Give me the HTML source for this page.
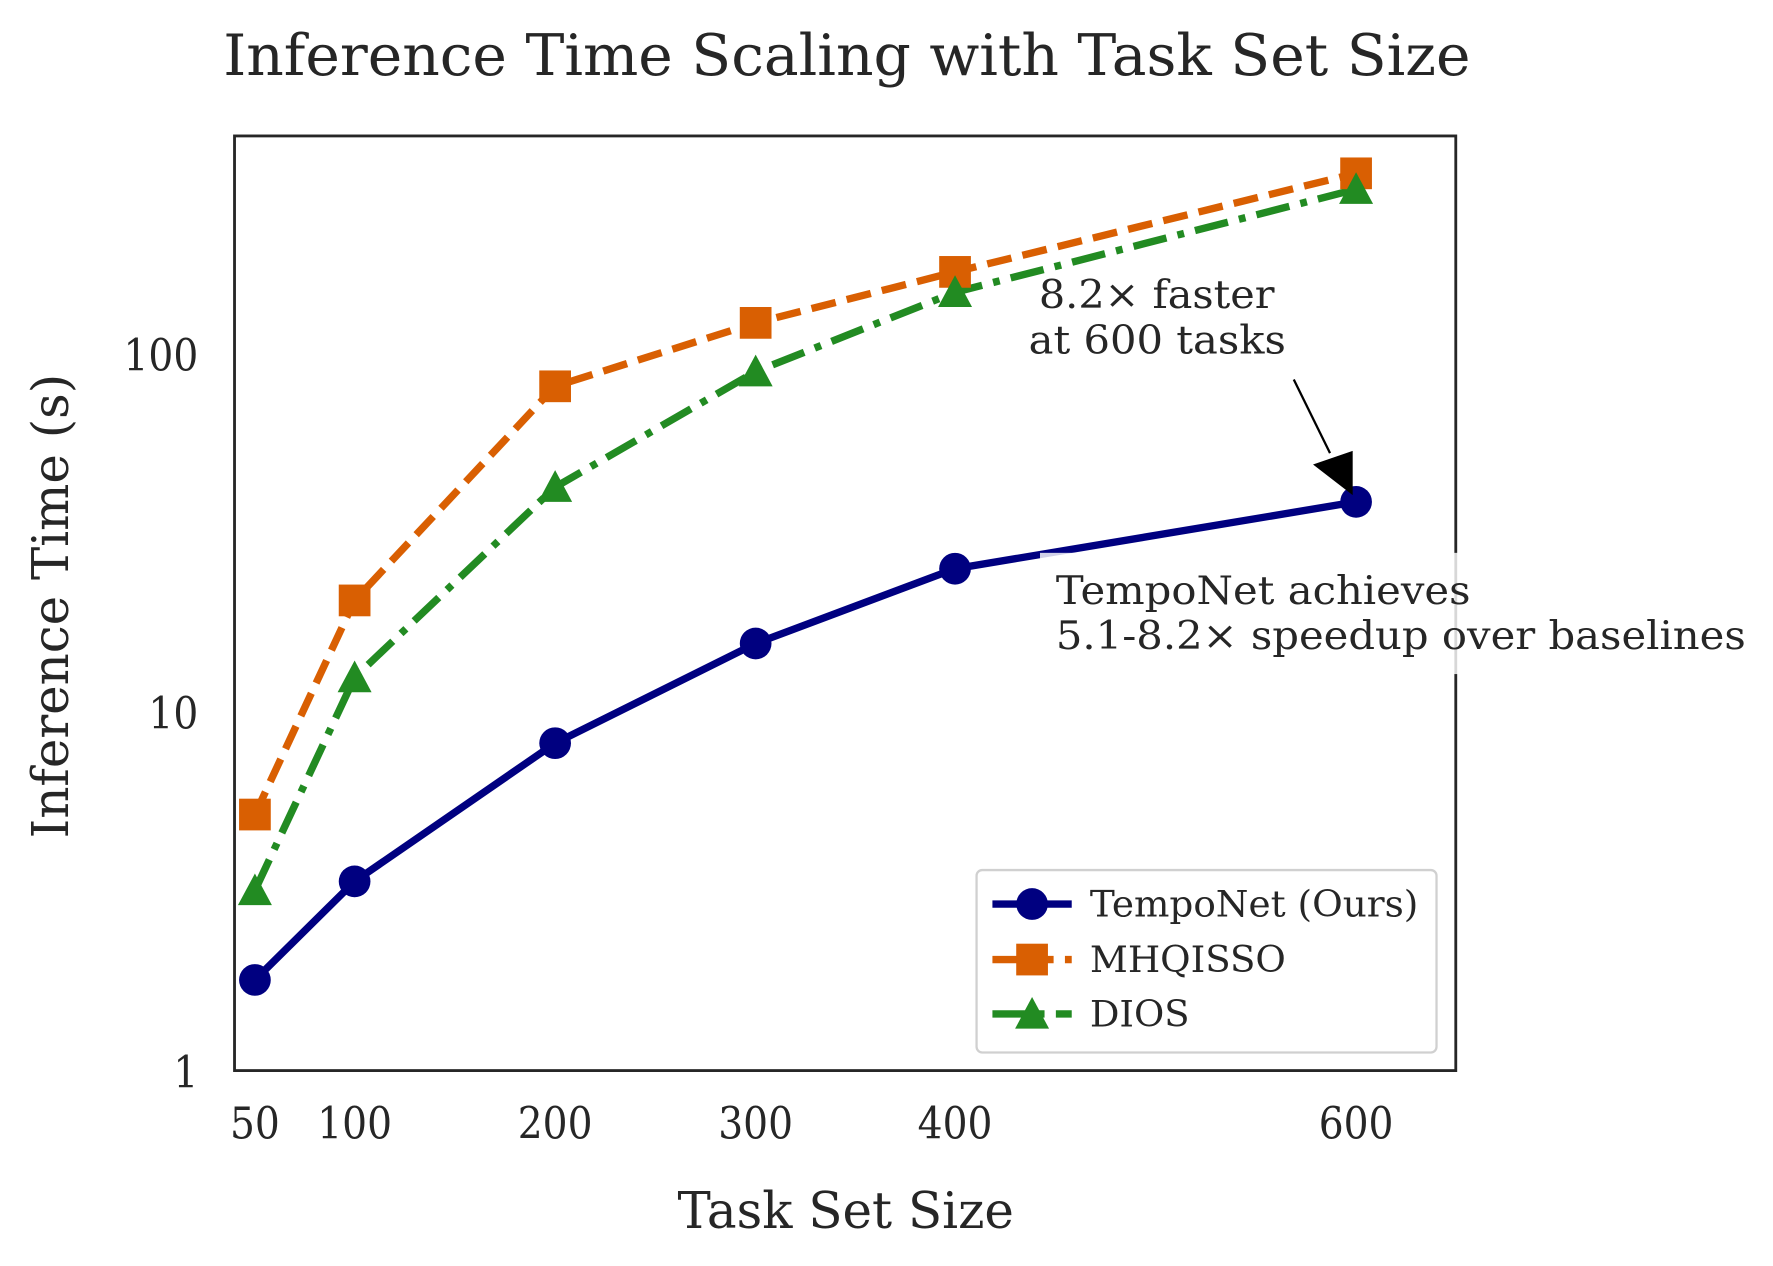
<!DOCTYPE html>
<html><head><meta charset="utf-8"><style>
html,body{margin:0;padding:0;background:#fff;}
svg{display:block;}
text{font-family:"DejaVu Serif","Liberation Serif",serif;fill:#262626;}
</style></head><body>
<svg width="1773" height="1266" viewBox="0 0 1565 1117.5" xmlns="http://www.w3.org/2000/svg">
<rect x="0" y="0" width="1565" height="1117.5" fill="#fff"/>
<text x="197" y="66" font-size="50" textLength="1101" lengthAdjust="spacingAndGlyphs">Inference Time Scaling with Task Set Size</text>
<polyline points="225,719 313,530 490,341 667,285 843,240 1197,153" fill="none" stroke="#d95f02" stroke-width="6.5" stroke-dasharray="22,10"/>
<polyline points="225,786 313,598 490,430 667,328 843,258 1197,167" fill="none" stroke="#228b22" stroke-width="6.5" stroke-dasharray="30,10,6,10"/>
<polyline points="225,865 313,778 490,656 667,568 843,502 1197,443" fill="none" stroke="#000080" stroke-width="6.5"/>
<g fill="#d95f02">
<rect x="211" y="705" width="28" height="28"/><rect x="299" y="516" width="28" height="28"/><rect x="476" y="327" width="28" height="28"/><rect x="653" y="271" width="28" height="28"/><rect x="829" y="226" width="28" height="28"/><rect x="1183" y="139" width="28" height="28"/>
</g>
<g fill="#228b22">
<polygon points="225,771 240,799 210,799"/><polygon points="313,583 328,611 298,611"/><polygon points="490,415 505,443 475,443"/><polygon points="667,313 682,341 652,341"/><polygon points="843,243 858,271 828,271"/><polygon points="1197,152 1212,180 1182,180"/>
</g>
<g fill="#000080">
<circle cx="225" cy="865" r="14"/><circle cx="313" cy="778" r="14"/><circle cx="490" cy="656" r="14"/><circle cx="667" cy="568" r="14"/><circle cx="843" cy="502" r="14"/><circle cx="1197" cy="443" r="14"/>
</g>
<rect x="207" y="120" width="1078" height="825" fill="none" stroke="#262626" stroke-width="2.5"/>
<line x1="1142" y1="335" x2="1174" y2="400" stroke="#000" stroke-width="2"/>
<polygon points="1159,410 1194,398 1194,437" fill="#000"/>
<text font-size="35" x="917" y="272" textLength="208" lengthAdjust="spacingAndGlyphs">8.2× faster</text>
<text font-size="35" x="908" y="312" textLength="227" lengthAdjust="spacingAndGlyphs">at 600 tasks</text>
<rect x="918" y="488" width="630" height="107" fill="#fff" fill-opacity="0.82"/>
<text font-size="35" x="932" y="533" textLength="366" lengthAdjust="spacingAndGlyphs">TempoNet achieves</text>
<text font-size="35" x="932" y="573" textLength="609" lengthAdjust="spacingAndGlyphs">5.1-8.2× speedup over baselines</text>
<g font-size="39">
<text x="109" y="327" textLength="66" lengthAdjust="spacingAndGlyphs">100</text>
<text x="131" y="643" textLength="44" lengthAdjust="spacingAndGlyphs">10</text>
<text x="153" y="960" textLength="22" lengthAdjust="spacingAndGlyphs">1</text>
<text x="203" y="1005" textLength="44" lengthAdjust="spacingAndGlyphs">50</text>
<text x="280" y="1005" textLength="66" lengthAdjust="spacingAndGlyphs">100</text>
<text x="457" y="1005" textLength="66" lengthAdjust="spacingAndGlyphs">200</text>
<text x="634" y="1005" textLength="66" lengthAdjust="spacingAndGlyphs">300</text>
<text x="810" y="1005" textLength="66" lengthAdjust="spacingAndGlyphs">400</text>
<text x="1164" y="1005" textLength="66" lengthAdjust="spacingAndGlyphs">600</text>
</g>
<text x="598" y="1084" font-size="45" textLength="297" lengthAdjust="spacingAndGlyphs">Task Set Size</text>
<text transform="translate(60,740) rotate(-90)" font-size="45" textLength="410" lengthAdjust="spacingAndGlyphs">Inference Time (s)</text>
<rect x="862" y="768" width="406" height="161" rx="5" fill="#fff" stroke="#d0d0d0" stroke-width="2"/>
<line x1="876" y1="798" x2="946" y2="798" stroke="#000080" stroke-width="6.5"/><circle cx="911" cy="798" r="14" fill="#000080"/>
<line x1="876" y1="847" x2="946" y2="847" stroke="#d95f02" stroke-width="6.5" stroke-dasharray="22,10"/><rect x="897" y="833" width="28" height="28" fill="#d95f02"/>
<line x1="876" y1="895" x2="946" y2="895" stroke="#228b22" stroke-width="6.5" stroke-dasharray="30,10,6,10"/><polygon points="911,880 926,908 896,908" fill="#228b22"/>
<g font-size="32">
<text x="962" y="809" textLength="290" lengthAdjust="spacingAndGlyphs">TempoNet (Ours)</text>
<text x="962" y="858" textLength="173" lengthAdjust="spacingAndGlyphs">MHQISSO</text>
<text x="962" y="906" textLength="88" lengthAdjust="spacingAndGlyphs">DIOS</text>
</g>
</svg>
</body></html>
